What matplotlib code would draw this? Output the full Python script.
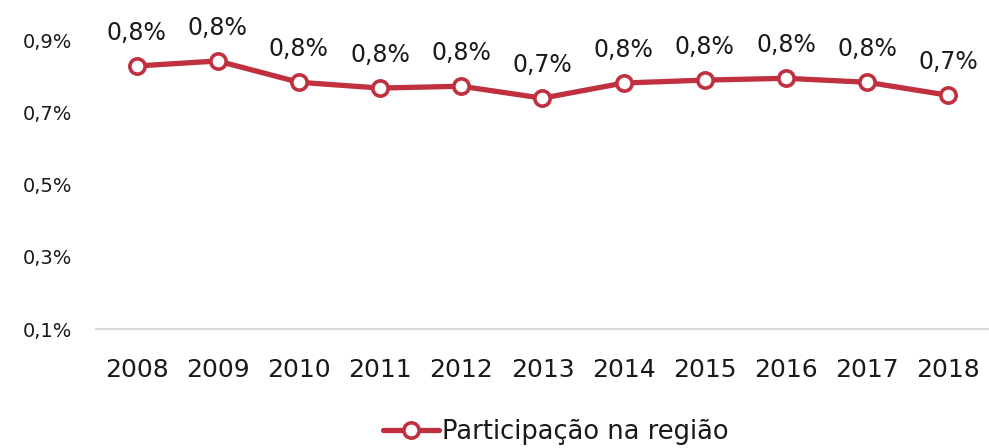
import matplotlib
matplotlib.use("Agg")
import matplotlib.pyplot as plt

# dados
anos = ["2008", "2009", "2010", "2011", "2012", "2013", "2014", "2015", "2016", "2017", "2018"]
participacao = [0.828, 0.842, 0.783, 0.767, 0.772, 0.739, 0.781, 0.789, 0.794, 0.783, 0.747]
rotulos = ["0,8%", "0,8%", "0,8%", "0,8%", "0,8%", "0,7%", "0,8%", "0,8%", "0,8%", "0,8%", "0,7%"]
yticks = [0.1, 0.3, 0.5, 0.7, 0.9]
ytick_labels = ["0,1%", "0,3%", "0,5%", "0,7%", "0,9%"]

plt.rcParams['font.family'] = ['DejaVu Sans']
vermelho = "#C0303E"
texto = "#1a1a1a"

fig = plt.figure(figsize=(9.89, 4.48), dpi=100)
ax = fig.add_axes([0.097, 0.2656, 0.903, 0.6451])

x = list(range(len(anos)))
ax.plot(x, participacao, color=vermelho, linewidth=3.8, marker="o", markersize=11,
        markerfacecolor="white", markeredgecolor=vermelho, markeredgewidth=2.6,
        label="Participação na região", solid_capstyle="round", zorder=3)

for xi, yi, txt in zip(x, participacao, rotulos):
    ax.annotate(txt, (xi, yi), xytext=(0, 15), textcoords="offset points",
                ha="center", va="bottom", fontsize=17, color=texto)

ax.set_xlim(-0.5, len(anos) - 0.5)
ax.set_ylim(0.1, 0.9)
ax.set_xticks(x)
ax.set_xticklabels(anos, fontsize=18, color=texto)
ax.set_yticks(yticks)
ax.set_yticklabels(ytick_labels, fontsize=14, color=texto)
ax.tick_params(axis="both", length=0)
ax.tick_params(axis="y", pad=17)
ax.tick_params(axis="x", pad=21)

for s in ["top", "right", "left"]:
    ax.spines[s].set_visible(False)
ax.spines["bottom"].set_color("#d9d9d9")
ax.spines["bottom"].set_linewidth(1.5)
for ln in ax.lines:
    ln.set_clip_on(False)

leg = fig.legend(loc="center", bbox_to_anchor=(0.562, 0.035), frameon=False,
                 fontsize=18.5, handlelength=2.2, handletextpad=0.1)
for t in leg.get_texts():
    t.set_color(texto)

fig.savefig("out.png", dpi=100)
